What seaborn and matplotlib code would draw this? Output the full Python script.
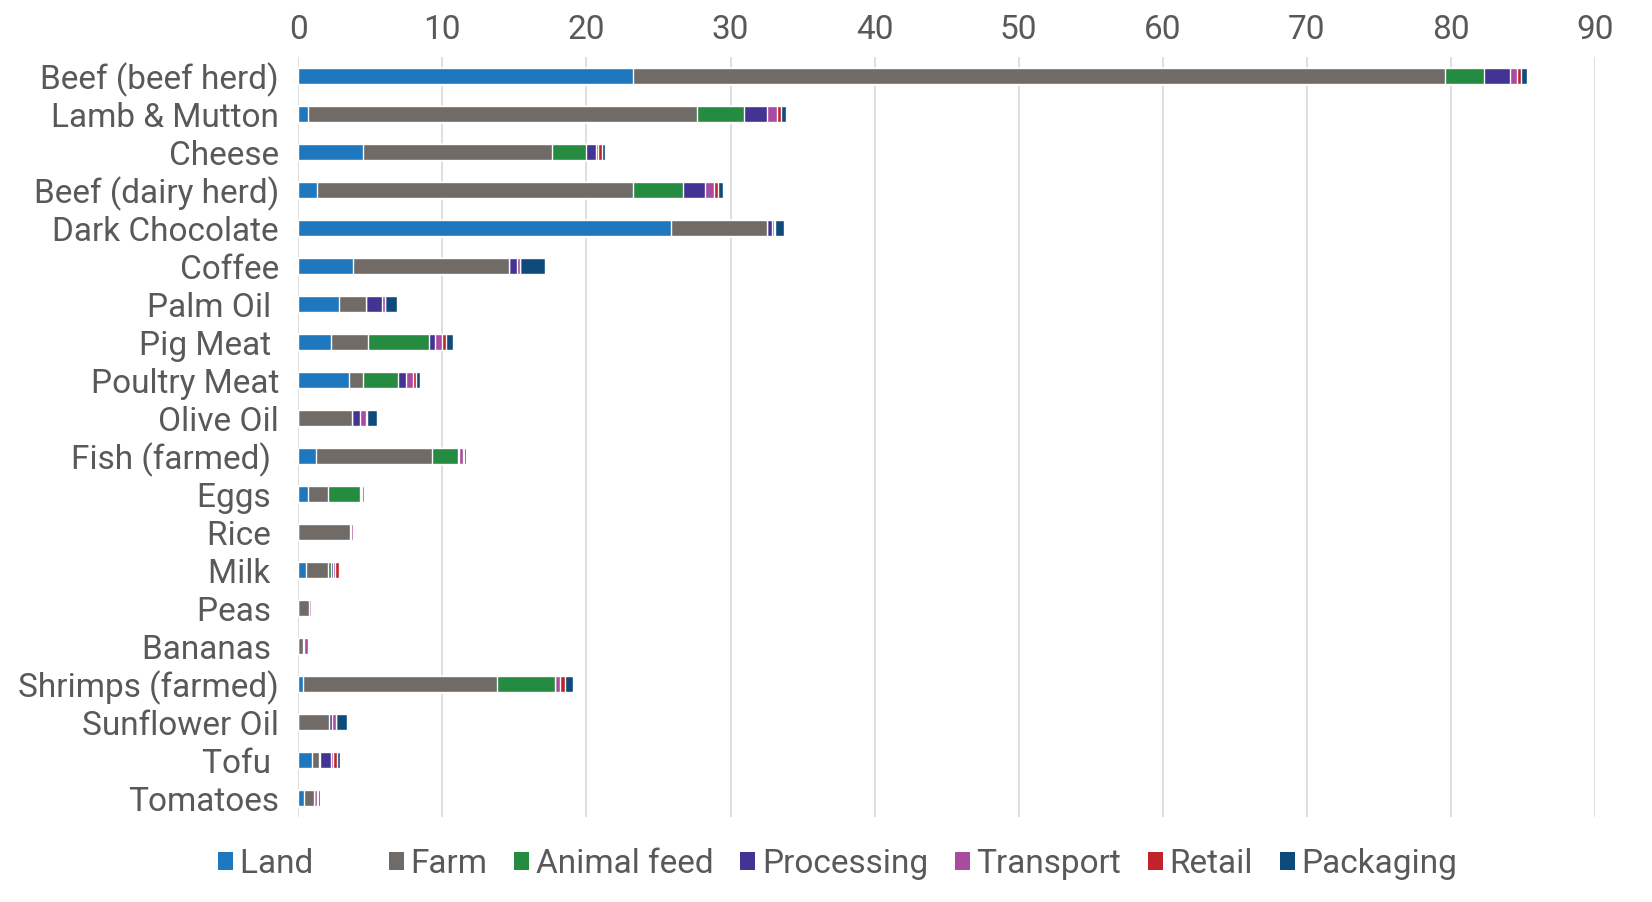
import numpy as np
import pandas as pd
import seaborn as sns
import matplotlib.pyplot as plt
from matplotlib.patches import Patch

# Produits (ordre du graphique, de haut en bas)
aliments = ['Beef (beef herd)', 'Lamb & Mutton', 'Cheese', 'Beef (dairy herd)',
            'Dark Chocolate', 'Coffee', 'Palm Oil ', 'Pig Meat ', 'Poultry Meat',
            'Olive Oil', 'Fish (farmed) ', 'Eggs ', 'Rice ', 'Milk ', 'Peas ',
            'Bananas ', 'Shrimps (farmed)', 'Sunflower Oil', 'Tofu ', 'Tomatoes']

etapes = ['Land', 'Farm', 'Animal feed', 'Processing', 'Transport', 'Retail', 'Packaging']

# Valeurs par étape
land = [23.25, 0.65, 4.5, 1.3, 25.85, 3.8, 2.8, 2.3, 3.55, 0.0,
        1.2, 0.7, 0.0, 0.55, 0.0, 0.0, 0.35, 0.0, 0.95, 0.42]
farm = [56.35, 27.05, 13.1, 21.9, 6.65, 10.8, 1.9, 2.5, 0.95, 3.7,
        8.1, 1.35, 3.6, 1.5, 0.74, 0.32, 13.45, 2.1, 0.5, 0.64]
animal_feed = [2.7, 3.25, 2.35, 3.5, 0.0, 0.0, 0.0, 4.3, 2.4, 0.0,
               1.8, 2.2, 0.0, 0.23, 0.0, 0.0, 4.0, 0.02, 0.02, 0.0]
processing = [1.8, 1.55, 0.7, 1.55, 0.37, 0.57, 1.1, 0.4, 0.6, 0.55,
              0.05, 0.07, 0.07, 0.1, 0.02, 0.05, 0.02, 0.25, 0.8, 0.06]
transport = [0.5, 0.7, 0.15, 0.6, 0.14, 0.19, 0.2, 0.5, 0.45, 0.45,
             0.3, 0.1, 0.15, 0.14, 0.12, 0.3, 0.35, 0.22, 0.15, 0.2]
retail = [0.25, 0.3, 0.3, 0.3, 0.05, 0.05, 0.02, 0.25, 0.2, 0.04,
          0.05, 0.03, 0.03, 0.3, 0.02, 0.02, 0.35, 0.03, 0.28, 0.05]
packaging = [0.4, 0.35, 0.2, 0.35, 0.67, 1.7, 0.8, 0.45, 0.3, 0.75,
             0.15, 0.12, 0.08, 0.07, 0.05, 0.07, 0.55, 0.77, 0.18, 0.11]

couleurs = ['#1F78BE', '#706B66', '#248B41', '#433494', '#A94CA0', '#C1232B', '#0E4B7B']

sns.set_theme(style='white')
plt.rcParams['font.family'] = ['Roboto', 'DejaVu Sans']
gris = '#595959'
taille = 24

donnees = pd.DataFrame({'Land': land, 'Farm': farm, 'Animal feed': animal_feed,
                        'Processing': processing, 'Transport': transport,
                        'Retail': retail, 'Packaging': packaging}, index=aliments)
cumul = donnees.cumsum(axis=1)

fig = plt.figure(figsize=(16.52, 9.02), dpi=100)
ax = fig.add_axes([0.1806, 0.0942, 0.7849, 0.8426])

# Barres empilées : on trace les cumuls du plus grand au plus petit
for etape, couleur in reversed(list(zip(etapes, couleurs))):
    sns.barplot(x=cumul[etape].values, y=aliments, orient='h', color=couleur,
                saturation=1, width=0.4, ax=ax, errorbar=None)

ax.set_xlim(0, 90)
ax.set_ylim(19.5, -0.5)
ax.set_xticks(range(0, 91, 10))
ax.xaxis.tick_top()
ax.tick_params(axis='x', length=0, labelsize=taille, colors=gris, pad=8)
ax.tick_params(axis='y', length=0, labelsize=taille, colors=gris, pad=14)
ax.set_xlabel('')
ax.set_ylabel('')
ax.grid(axis='x', color='#d9d9d9', linewidth=1.2)
ax.grid(axis='y', visible=False)
ax.set_axisbelow(True)
for s in ax.spines.values():
    s.set_visible(False)

poignees = [Patch(facecolor=c, edgecolor='none') for c in couleurs]
libelles = ['Land      ', 'Farm', 'Animal feed', 'Processing', 'Transport', 'Retail', 'Packaging']
leg = fig.legend(poignees, libelles, loc='center', bbox_to_anchor=(0.507, 0.042), ncol=7,
                 frameon=False, fontsize=taille, handlelength=0.45, handleheight=0.45,
                 handletextpad=0.2, columnspacing=0.8)
for t in leg.get_texts():
    t.set_color(gris)

fig.savefig('out.png', dpi=100)
